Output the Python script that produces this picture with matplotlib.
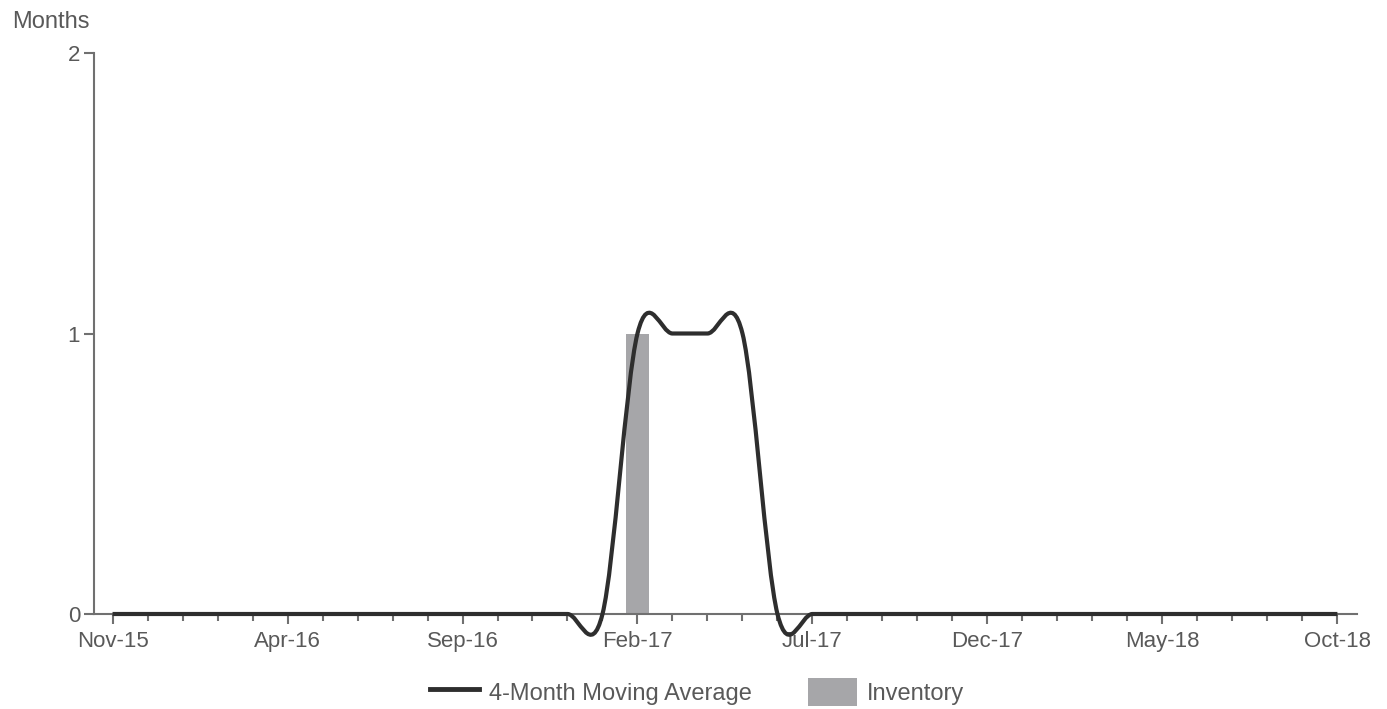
import numpy as np
import pandas as pd
import matplotlib
matplotlib.use("Agg")
import matplotlib.pyplot as plt
from matplotlib.path import Path
from matplotlib.patches import PathPatch, Patch
from matplotlib.lines import Line2D
import matplotlib.ticker as ptk

# monthly categories Nov-15 .. Oct-18
months = list(pd.date_range("2015-11-01", periods=36, freq="MS").strftime("%b-%y"))
moving_avg = [0, 0, 0, 0, 0, 0, 0, 0, 0, 0, 0, 0, 0, 0, 0,
              1, 1, 1, 1,
              0, 0, 0, 0, 0, 0, 0, 0, 0, 0, 0, 0, 0, 0, 0, 0, 0]
inventory = [0] * 15 + [1] + [0] * 20
y_ticks = [0, 1, 2]

TEXT = "#595959"
AXIS = "#707070"
LINE = "#2e2e2e"
BAR = "#a6a6a9"

plt.rcParams["font.family"] = ["Liberation Sans", "DejaVu Sans"]
plt.rcParams["font.size"] = 16

fig = plt.figure(figsize=(13.87, 7.09), dpi=100)
ax = fig.add_axes([94 / 1387, 95 / 709, (1357 - 94) / 1387, (614 - 53) / 709])

x = np.arange(len(months))
ax.bar(x, inventory, width=0.66, color=BAR, zorder=1)


def smooth_path(xs, ys):
    # cardinal (catmull-rom) bezier through the data points
    pts = np.column_stack([xs, ys]).astype(float)
    verts = [pts[0]]
    codes = [Path.MOVETO]
    n = len(pts)
    for i in range(n - 1):
        p0 = pts[max(i - 1, 0)]
        p1 = pts[i]
        p2 = pts[i + 1]
        p3 = pts[min(i + 2, n - 1)]
        verts += [p1 + (p2 - p0) / 6, p2 - (p3 - p1) / 6, p2]
        codes += [Path.CURVE4] * 3
    return Path(verts, codes)


line = PathPatch(smooth_path(x, moving_avg), fill=False, edgecolor=LINE,
                 linewidth=3, transform=ax.transData, clip_on=False, zorder=3,
                 capstyle="butt", joinstyle="round")
ax.add_patch(line)

ax.set_xlim(-0.53, 35.56)
ax.set_ylim(0, 2)
for s in ["top", "right"]:
    ax.spines[s].set_visible(False)
for s in ["left", "bottom"]:
    ax.spines[s].set_color(AXIS)
    ax.spines[s].set_linewidth(1.5)
    ax.spines[s].set_zorder(2)

ax.set_yticks(y_ticks)
ax.set_xticks(x[::5])
ax.set_xticklabels(months[::5])
ax.xaxis.set_minor_locator(ptk.MultipleLocator(1))
ax.tick_params(axis="both", which="major", color=AXIS, width=1.5, length=7,
               labelcolor=TEXT, pad=5)
ax.tick_params(axis="y", which="major", pad=3)
ax.tick_params(axis="x", which="minor", color=AXIS, width=1.5, length=5)

fig.text(12 / 1387, 1 - 22 / 709, "Months", color=TEXT, va="center", ha="left",
         fontsize=17)

handles = [Line2D([], [], color=LINE, linewidth=3.5),
           Patch(facecolor=BAR, edgecolor="none")]
fig.legend(handles, ["4-Month Moving Average", "Inventory"], loc="center",
           bbox_to_anchor=(697 / 1387, 1 - 692 / 709), ncol=2, frameon=False,
           fontsize=17, handlelength=2.05, handleheight=1.5, handletextpad=0.42,
           columnspacing=2.4, labelcolor=TEXT, borderpad=0)

fig.savefig("out.png", dpi=100)
